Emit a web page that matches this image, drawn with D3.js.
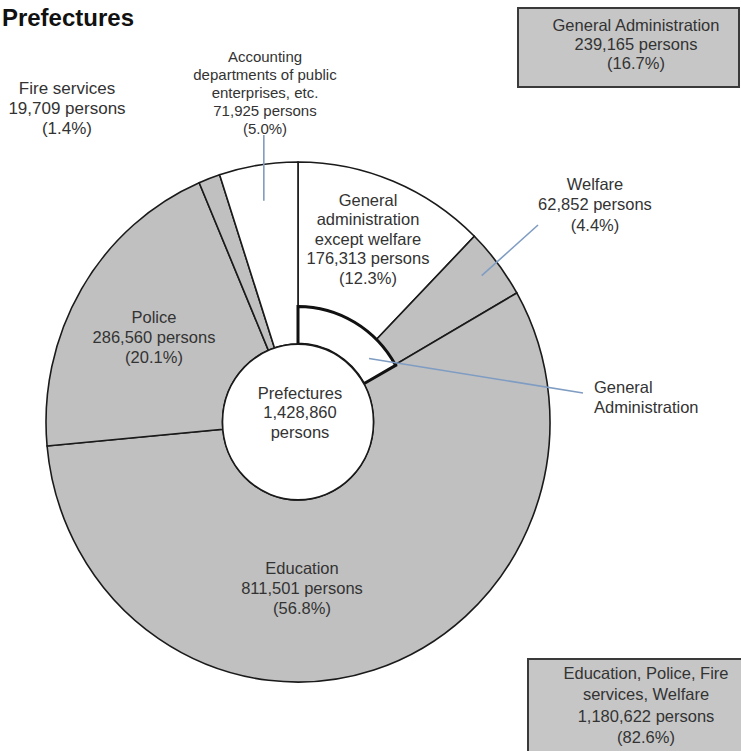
<!DOCTYPE html>
<html>
<head>
<meta charset="utf-8">
<script src="https://cdn.jsdelivr.net/npm/d3@7"></script>
<style>
  body { margin: 0; background: #fff; }
  svg { font-family: "Liberation Sans", Arial, sans-serif; }
</style>
</head>
<body>
<div id="chart"></div>
<script>
// slices, clockwise from 12 o'clock
var sliceNames = [
  ["General", "administration", "except welfare"],
  ["Welfare"],
  ["Education"],
  ["Police"],
  ["Fire services"],
  ["Accounting", "departments of public", "enterprises, etc."]
];
var sliceValues = [176313, 62852, 811501, 286560, 19709, 71925];
var sliceGroup = ["GA", "GA", "EPFW", "EPFW", "EPFW", "other"];
var sliceFill = ["white", "gray", "gray", "gray", "gray", "white"];

// inner ring groups
var groupKeys = ["GA", "rest"];
var groupValues = [239165, 1180622];
var boxLabels = [["General Administration"], ["Education, Police, Fire", "services, Welfare"]];

var totalLabel = ["Prefectures"];

var svgWidth = 741;
var svgHeight = 751;

var cx = 298, cy = 422;
var yStretch = 1.032;
var rCenter = 75.5, rInner = 112, rOuter = 252;

var grayFill = "#c0c0c0";
var textColor = "#333";
var leaderColor = "#7f9cc2";

var fmt = d3.format(",");
var pct = d3.format(".1%");
var total = d3.sum(sliceValues);

var svg = d3.select("#chart")
  .append("svg")
  .attr("width", svgWidth)
  .attr("height", svgHeight);

// title (left edge is cut off in the original)
svg.append("text")
  .attr("x", 134)
  .attr("y", 26)
  .attr("text-anchor", "end")
  .attr("font-size", "24px")
  .attr("font-weight", "bold")
  .attr("fill", "#111")
  .text("Prefectures");

var pie = d3.pie()
  .sort(null)
  .value(d => d);

var slices = pie(sliceValues);
var groups = pie(groupValues);

var chartGroup = svg.append("g")
  .attr("transform", `translate(${cx}, ${cy}) scale(1, ${yStretch})`);

// outer ring
var arc = d3.arc()
  .innerRadius((d, i) => sliceGroup[i] == "GA" ? rInner : rCenter)
  .outerRadius(rOuter);

chartGroup.selectAll("path.slice")
  .data(slices)
  .enter()
  .append("path")
  .attr("class", "slice")
  .attr("d", (d, i) => arc(d, i))
  .attr("fill", (d, i) => sliceFill[i] == "gray" ? grayFill : "#fff")
  .attr("stroke", "#1a1a1a")
  .attr("stroke-width", 1.6)
  .attr("vector-effect", "non-scaling-stroke");

// inner General Administration segment
var innerArc = d3.arc()
  .innerRadius(rCenter)
  .outerRadius(rInner);

chartGroup.append("path")
  .attr("d", innerArc(groups[0]))
  .attr("fill", "#fff")
  .attr("stroke", "#111")
  .attr("stroke-width", 3)
  .attr("stroke-linejoin", "miter")
  .attr("vector-effect", "non-scaling-stroke");

// centre circle
chartGroup.append("circle")
  .attr("r", rCenter)
  .attr("fill", "#fff")
  .attr("stroke", "#1a1a1a")
  .attr("stroke-width", 1.6)
  .attr("vector-effect", "non-scaling-stroke");

// point on the (stretched) ring at angle a, radius r
function ringPoint(a, r) {
  return [cx + r * Math.sin(a), cy - r * Math.cos(a) * yStretch];
}

// leader lines
var accMid = (slices[5].startAngle + slices[5].endAngle) / 2;
var accP = ringPoint(accMid, 217);
var welMid = (slices[1].startAngle + slices[1].endAngle) / 2;
var welP = ringPoint(welMid, 232);
var gaP = ringPoint(groups[0].startAngle + 0.81 * (groups[0].endAngle - groups[0].startAngle), 94);

var leaders = [
  [accP, [accP[0], 135]],
  [welP, [538, 225]],
  [gaP, [583, 393]]
];

svg.selectAll("line.leader")
  .data(leaders)
  .enter()
  .append("line")
  .attr("class", "leader")
  .attr("x1", d => d[0][0])
  .attr("y1", d => d[0][1])
  .attr("x2", d => d[1][0])
  .attr("y2", d => d[1][1])
  .attr("stroke", leaderColor)
  .attr("stroke-width", 1.6);

// label boxes
var boxes = [
  {x: 518, y: 8, w: 221, h: 79},
  {x: 528, y: 659, w: 220, h: 100}
];

svg.selectAll("rect.box")
  .data(boxes)
  .enter()
  .append("rect")
  .attr("class", "box")
  .attr("x", d => d.x)
  .attr("y", d => d.y)
  .attr("width", d => d.w)
  .attr("height", d => d.h)
  .attr("fill", "#c6c6c6")
  .attr("stroke", "#3a3a3a")
  .attr("stroke-width", 2);

// multi line text helper
function addLabel(lines, x, y, lh, size, anchor) {
  var t = svg.append("text")
    .attr("x", x)
    .attr("y", y)
    .attr("font-size", size + "px")
    .attr("fill", textColor)
    .attr("text-anchor", anchor || "middle");
  lines.forEach(function(line, i) {
    t.append("tspan")
      .attr("x", x)
      .attr("y", y + i * lh)
      .attr("dy", "0.36em")
      .text(line);
  });
}

function personLines(names, v) {
  return names.concat([fmt(v) + " persons", "(" + pct(v / total) + ")"]);
}

// slice label placement: x, first line y, line height, font size
var sliceLabelPos = [
  [368, 200, 19.5, 16.5],
  [595, 184, 20.5, 16.5],
  [302, 568, 20, 16.5],
  [154, 317, 20, 16.5],
  [67, 88, 20, 17],
  [265, 57, 17.8, 15]
];

sliceNames.forEach(function(names, i) {
  var p = sliceLabelPos[i];
  addLabel(personLines(names, sliceValues[i]), p[0], p[1], p[2], p[3]);
});

// centre label
addLabel(totalLabel.concat([fmt(total), "persons"]), 300, 393, 19.5, 16.5);

// inner segment annotation
addLabel(["General", "Administration"], 594, 387, 20, 16.5, "start");

// box labels
addLabel(personLines(boxLabels[0], groupValues[0]), 636, 25, 19, 16.5);
addLabel(personLines(boxLabels[1], groupValues[1]), 646, 673, 21.3, 16.5);
</script>
</body>
</html>
